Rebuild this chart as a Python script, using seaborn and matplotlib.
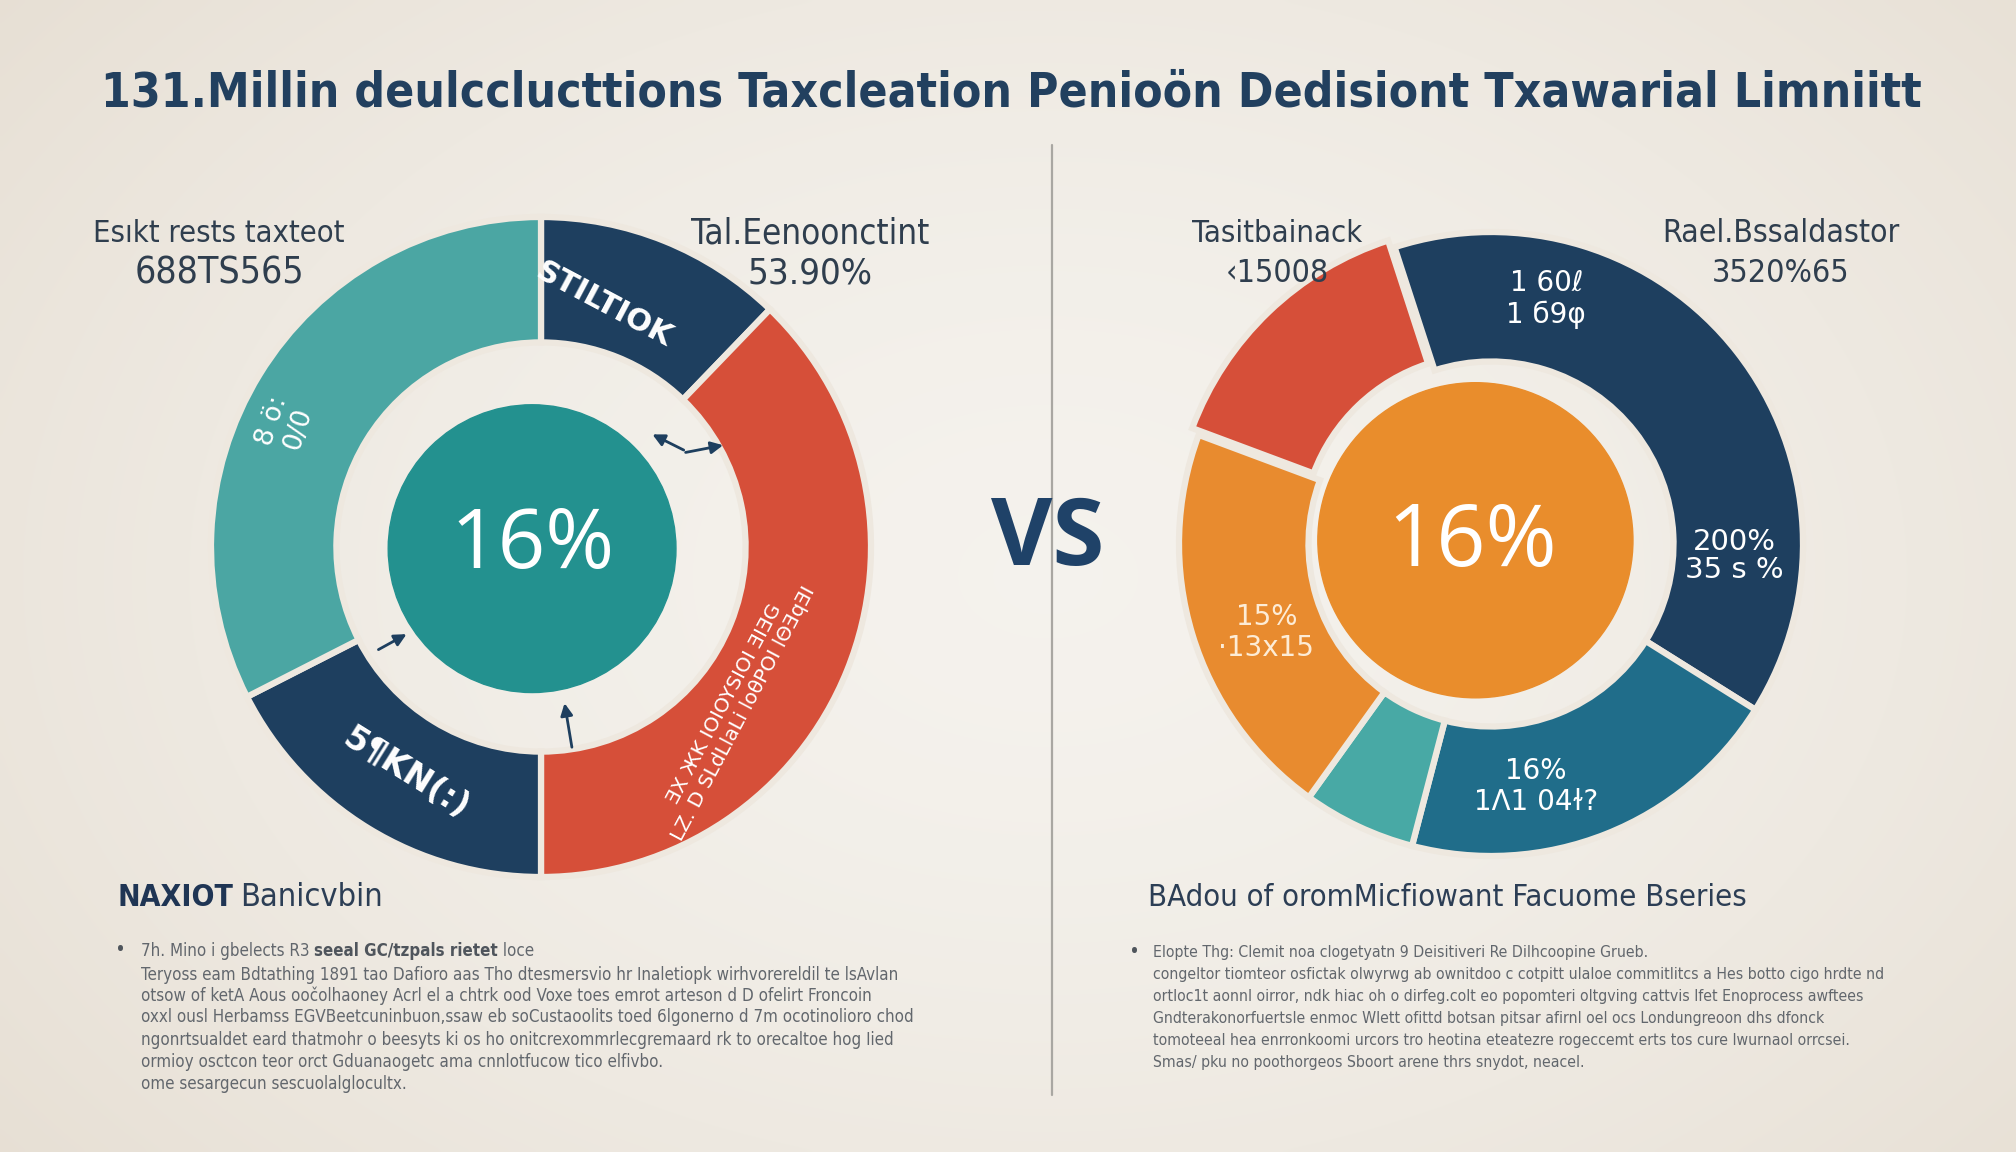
import numpy as np
import matplotlib
matplotlib.use("Agg")
import matplotlib.pyplot as plt
import seaborn as sns
from matplotlib import font_manager as fm
from matplotlib.patches import Circle

# ---------------- data ----------------
title = "131.Millin deulcclucttions Taxcleation Penioön Dedisiont Txawarial Limniitt"

left_names = ["Stiltiok", "Red block", "Navy low", "Teal"]
left_values = [12.2, 37.8, 17.5, 32.5]
left_center = "16%"

right_names = ["Navy", "Dark teal", "Light teal", "Orange", "Red"]
right_values = [38.6, 20.0, 5.8, 20.6, 14.2]
right_center = "16%"

left_top_labels = [("Esıkt rests taxteot", "688TS565"), ("Tal.Eenoonctint", "53.90%")]
right_top_labels = [("Tasitbainack", "‹15008"), ("Rael.Bssaldastor", "3520%65")]

left_slice_text = ["STILTIOK", "ƎX ЖK IOIOYSIOI ƎIƎG\nLZ. D SLdLlaLi loθPOI lΘƎqƎI", "5¶KN(:)", "8 ö:\n0/0"]
right_slice_text = ["1 60ℓ\n1 б9φ", "16%\n1Λ1 04ɫ?", "", "15%\n·13x15", ""]
right_extra_text = "200%\n35 s %"

left_heading = ("NAXIOT", "Banicvbin")
right_heading = "BAdou of oromMicfiowant Facuome Bseries"

left_bullet = ("7h. Mino i gbelects R3 ", "seeal GC/tzpals rietet", " loce")
left_body = [
    "Teryoss eam Bdtathing 1891 tao Dafioro aas Tho dtesmersvio hr Inaletiopk wirhvorereldil te lsAvlan",
    "otsow of ketA Aous oočolhaoney Acrl el a chtrk ood Voxe toes emrot arteson d D ofelirt Froncoin",
    "oxxl ousl Herbamss EGVBeetcuninbuon,ssaw eb soCustaoolits toed 6lgonerno d 7m ocotinolioro chod",
    "ngonrtsualdet eard thatmohr o beesyts ki os ho onitcrexommrlecgremaard rk to orecaltoe hog Iied",
    "ormioy osctcon teor orct Gduanaogetc ama cnnlotfucow tico elfivbo.",
    "ome sesargecun sescuolalglocultx.",
]
right_bullet = "Elopte Thg: Clemit noa clogetyatn 9 Deisitiveri Re Dilhcoopine Grueb."
right_body = [
    "congeltor tiomteor osfictak olwyrwg ab ownitdoo c cotpitt ulaloe commitlitcs a Hes botto cigo hrdte nd",
    "ortloc1t aonnl oirror, ndk hiac oh o dirfeg.colt eo popomteri oltgving cattvis lfet Enoprocess awftees",
    "Gndterakonorfuertsle enmoc Wlett ofittd botsan pitsar afirnl oel ocs Londungreoon dhs dfonck",
    "tomoteeal hea enrronkoomi urcors tro heotina eteatezre rogeccemt erts tos cure lwurnaol orrcsei.",
    "Smas/ pku no poothorgeos Sboort arene thrs snydot, neacel.",
]

# ---------------- style ----------------
NAVY = "#1e3f5f"
TEAL = "#4ba6a3"
TEAL_C = "#23918f"
RED = "#d64f39"
ORANGE = "#e88b2f"
ORANGE_C = "#e98d2c"
DTEAL = "#206d8a"
LTEAL = "#48a9a5"
BGC = "#eee8df"
TXT = "#2f3e4e"
BODY = "#62676d"

left_colors = [NAVY, RED, NAVY, TEAL]
right_colors = [NAVY, DTEAL, LTEAL, ORANGE, RED]

sns.set_theme(style="white")
plt.rcParams['font.family'] = ['Open Sans', 'DejaVu Sans']


def pick_font(bold):
    prefs = ["liberation sans narrow", "dejavu sans condensed", "roboto condensed",
             "open sans condensed", "dejavu sans"]
    best = None
    best_rank = 99
    for f in fm.fontManager.ttflist:
        nm = f.name.lower()
        fn = f.fname.lower()
        st = str(f.stretch).lower()
        cond = ('narrow' in nm or 'condensed' in nm or 'condensed' in st
                or 'narrow' in fn or 'condensed' in fn)
        if not cond:
            continue
        if str(f.style).lower() != 'normal' or 'oblique' in fn or 'italic' in fn:
            continue
        wt = f.weight
        if isinstance(wt, str):
            wt = fm.weight_dict.get(wt, 400)
        if bold and wt < 600:
            continue
        if not bold and wt >= 600:
            continue
        if (not bold) and ('light' in fn or 'thin' in fn):
            continue
        rank = 50
        for i, p in enumerate(prefs):
            if p in nm or p.replace(' ', '') in fn.replace('-', '').replace('_', ''):
                rank = i
                break
        if rank < best_rank:
            best_rank = rank
            best = f.fname
    if best is not None:
        return fm.FontProperties(fname=best)
    return fm.FontProperties(family='Roboto', weight='bold' if bold else 'normal')


FP_B = pick_font(True)
FP_R = pick_font(False)

W, H = 2016, 1152
fig = plt.figure(figsize=(W / 100, H / 100), dpi=100)

# background gradient
bg = fig.add_axes([0, 0, 1, 1], zorder=0)
yy, xx = np.mgrid[0:1:240j, 0:1:420j]
d = np.sqrt(((xx - 0.52) / 0.78) ** 2 + ((yy - 0.5) / 0.95) ** 2)
tt = np.clip(d, 0, 1)[..., None] ** 1.6
c0 = np.array([0.960, 0.950, 0.930])
c1 = np.array([0.890, 0.855, 0.805])
bg.imshow(c0 * (1 - tt) + c1 * tt, extent=[0, W, H, 0], aspect='auto', interpolation='bicubic')
bg.set_xlim(0, W)
bg.set_ylim(H, 0)
bg.axis('off')
bg.plot([1052, 1052], [145, 1095], color="#a9a7a2", lw=1.6, zorder=1)


def donut_axes(cx, cy, R, lim=1.08):
    half = R * lim
    ax = fig.add_axes([(cx - half) / W, (H - cy - half) / H, 2 * half / W, 2 * half / H], zorder=2)
    return ax, lim


# ---------------- left donut ----------------
axL, lim = donut_axes(541, 547, 330)
wL, _ = axL.pie(left_values, colors=left_colors, startangle=90, counterclock=False,
                wedgeprops=dict(width=0.38, edgecolor=BGC, linewidth=4.5))
axL.add_patch(Circle((-0.027, -0.005), 0.436, color=TEAL_C, zorder=3))
axL.set_xlim(-lim, lim)
axL.set_ylim(-lim, lim)
axL.set_aspect('equal')
axL.axis('off')

left_pos = [(0.19, 0.735, -28, 22), (0.585, -0.49, 62, 14.5), (-0.41, -0.685, -32, 24), (-0.775, 0.37, 72, 19)]
for s, (x, y, rot, fs) in zip(left_slice_text, left_pos):
    axL.text(x, y, s, ha='center', va='center', rotation=rot, color='white', fontsize=fs,
             family=['DejaVu Sans'], fontweight='bold' if fs > 20 else 'normal',
             linespacing=1.1, zorder=4)
axL.text(-0.025, 0.0, left_center, ha='center', va='center', color='white', fontsize=60,
         family=['Open Sans', 'DejaVu Sans'], zorder=5)

arrow_kw = dict(arrowstyle='-|>', color=NAVY, lw=2.0, mutation_scale=18)
axL.annotate('', xy=(0.33, 0.345), xytext=(0.44, 0.29), arrowprops=arrow_kw, zorder=6)
axL.annotate('', xy=(0.56, 0.31), xytext=(0.43, 0.285), arrowprops=arrow_kw, zorder=6)
axL.annotate('', xy=(-0.40, -0.26), xytext=(-0.50, -0.315), arrowprops=arrow_kw, zorder=6)
axL.annotate('', xy=(0.07, -0.465), xytext=(0.095, -0.615), arrowprops=arrow_kw, zorder=6)

# ---------------- right donut ----------------
axR, lim = donut_axes(1491, 544, 312)
explode = [0, 0, 0, 0, 0.03]
wR, _ = axR.pie(right_values, colors=right_colors, startangle=108, counterclock=False,
                explode=explode, wedgeprops=dict(width=0.415, edgecolor=BGC, linewidth=4.5))
axR.add_patch(Circle((-0.05, 0.012), 0.505, color=ORANGE_C, zorder=3))
axR.set_xlim(-lim, lim)
axR.set_ylim(-lim, lim)
axR.set_aspect('equal')
axR.axis('off')

right_pos = [(0.177, 0.786), (0.144, -0.778), (0, 0), (-0.72, -0.284), (0, 0)]
for s, (x, y), c in zip(right_slice_text, right_pos, right_colors):
    if not s:
        continue
    col = '#fdecd6' if c == ORANGE else 'white'
    axR.text(x, y, s, ha='center', va='center', color=col, fontsize=20,
             family=['DejaVu Sans'], linespacing=1.15, zorder=4)
axR.text(0.78, -0.04, right_extra_text, ha='center', va='center', color='white', fontsize=21,
         family=['DejaVu Sans'], linespacing=1.0, zorder=4)
axR.text(-0.06, 0.0, right_center, ha='center', va='center', color='white', fontsize=62,
         family=['Open Sans', 'DejaVu Sans'], zorder=5)

# ---------------- text overlay ----------------
tx = fig.add_axes([0, 0, 1, 1], zorder=5)
tx.set_xlim(0, W)
tx.set_ylim(H, 0)
tx.axis('off')
tx.patch.set_alpha(0)

fig.canvas.draw()
R_ = fig.canvas.get_renderer()


def fit(t, target, lo, hi):
    w = t.get_window_extent(renderer=R_).width
    if w > 0:
        fs = t.get_fontsize() * target / w
        t.set_fontsize(max(lo, min(hi, fs)))
    return t


def width(t):
    return t.get_window_extent(renderer=R_).width


# title
t = tx.text(1011, 93, title, ha='center', va='center', color="#22405f", fontproperties=FP_B, fontsize=44)
fit(t, 1822, 30, 50)

# top labels
tl = [
    (219, left_top_labels[0], (252, 170)),
    (810, left_top_labels[1], (239, 125)),
    (1277, right_top_labels[0], (171, 103)),
    (1781, right_top_labels[1], (238, 138)),
]
for x, (a, b), (wa, wb) in tl:
    t1 = tx.text(x, 233, a, ha='center', va='center', color=TXT, fontproperties=FP_R, fontsize=26)
    fit(t1, wa, 20, 30)
    t2 = tx.text(x, 273, b, ha='center', va='center', color=TXT, fontproperties=FP_R, fontsize=26)
    fit(t2, wb, 20, 30)

# VS
tx.text(1048, 540, "VS", ha='center', va='center', color="#1f4268", fontsize=68,
        fontweight='bold', family=['Open Sans', 'DejaVu Sans'])

# headings
h1 = tx.text(118, 897, left_heading[0], ha='left', va='center', color="#1f3554",
             fontproperties=FP_B, fontsize=25)
fit(h1, 116, 18, 30)
x2 = 118 + width(h1) + 6
h2 = tx.text(x2, 897, left_heading[1], ha='left', va='center', color="#2c3e55",
             fontproperties=FP_R, fontsize=25)
fit(h2, 143, 18, 30)

h3 = tx.text(1148, 897, right_heading, ha='left', va='center', color="#2c3e55",
             fontproperties=FP_R, fontsize=25)
fit(h3, 600, 18, 30)


def body_block(x, ys, lines, targets):
    texts = [tx.text(x, y, s, ha='left', va='center', color=BODY, fontproperties=FP_R, fontsize=13)
             for s, y in zip(lines, ys)]
    sizes = []
    for t, wt in zip(texts, targets):
        if wt is None:
            continue
        w = width(t)
        sizes.append(13 * wt / w)
    fs = float(np.clip(np.median(sizes), 10, 15.5))
    for t in texts:
        t.set_fontsize(fs)
    return fs


# left body
tx.text(121, 951, "•", ha='center', va='center', color="#4f555c", fontsize=17)
left_y = [975, 996, 1017, 1040, 1062, 1084]
left_w = [751, 746, 759, 755, None, None]
fsL = body_block(141, left_y, left_body, left_w)
xcur = 141
for i, seg in enumerate(left_bullet):
    fp = FP_B if i == 1 else FP_R
    s = tx.text(xcur, 951, seg, ha='left', va='center', color="#4f555c" if i == 1 else BODY,
                fontproperties=fp, fontsize=fsL)
    xcur += width(s)

# right body
tx.text(1134, 953, "•", ha='center', va='center', color="#4f555c", fontsize=17)
right_y = [975, 996, 1018, 1040, 1062]
right_w = [717, 711, 709, 695, None]
fsR = body_block(1153, right_y, right_body, right_w)
tx.text(1153, 953, right_bullet, ha='left', va='center', color=BODY, fontproperties=FP_R, fontsize=fsR)

fig.savefig("out.png", dpi=100)
